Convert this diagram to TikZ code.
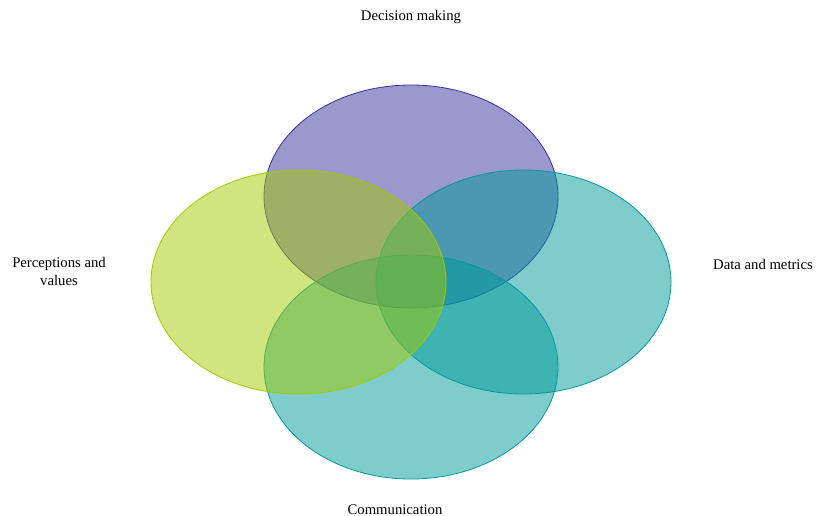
\documentclass[tikz,border=0pt]{standalone}
\usepackage{fontspec}
\setmainfont{Liberation Serif}
\definecolor{cpurple}{HTML}{353199}
\definecolor{cteal}{HTML}{009999}
\definecolor{cgreen}{HTML}{A1C900}
\begin{document}
\begin{tikzpicture}[x=1pt,y=-1pt,
  setel/.style={line width=0.8pt, fill opacity=0.5, draw opacity=1},
  lbl/.style={font=\fontsize{14.7}{17.5}\selectfont, align=center, inner sep=0pt}]
\useasboundingbox (0,0) rectangle (827,516);
\path[setel, draw=cpurple, fill=cpurple] (411,196.5) ellipse [x radius=147, y radius=111.5];
\path[setel, draw=cteal, fill=cteal] (523.5,282) ellipse [x radius=147.5, y radius=112];
\path[setel, draw=cteal, fill=cteal] (411,367) ellipse [x radius=147, y radius=112];
\path[setel, draw=cgreen, fill=cgreen] (298.5,282) ellipse [x radius=147.5, y radius=112];
\node[lbl] (dm) at (411,16.5) {Decision making};
\node[lbl] (pv) at (59,271.5) {Perceptions and\\values};
\node[lbl] (dam) at (763,264.5) {Data and metrics};
\node[lbl, font=\fontsize{14.7}{14.7}\selectfont] (com) at (395,509.5) {Communication};
\end{tikzpicture}
\end{document}
